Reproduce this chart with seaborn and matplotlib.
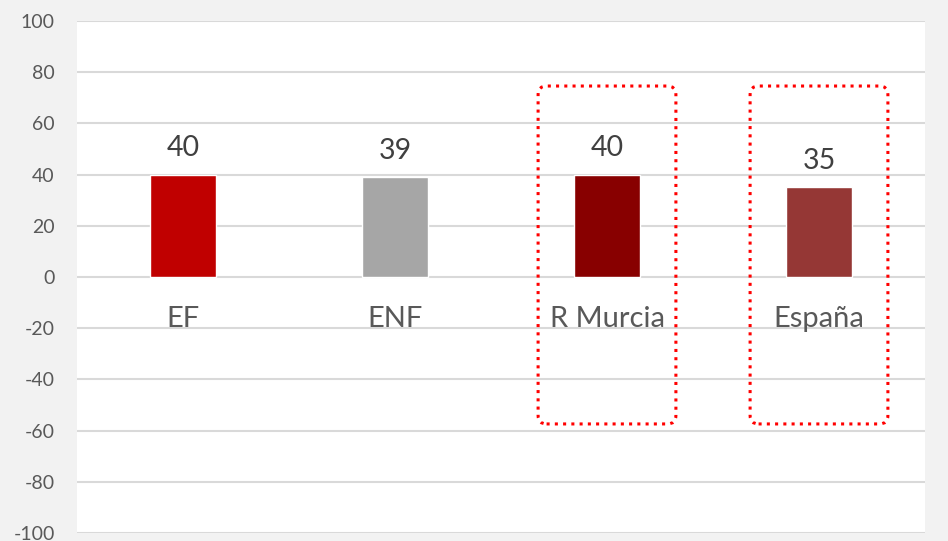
import numpy as np
import pandas as pd
import matplotlib
matplotlib.use('Agg')
import matplotlib.pyplot as plt
import seaborn as sns
from matplotlib.patches import FancyBboxPatch

categories = ['EF', 'ENF', 'R Murcia', 'España']
values = [40, 39, 40, 35]
value_labels = ['40', '39', '40', '35']
bar_colors = ['#c00000', '#a6a6a6', '#880000', '#953735']
highlighted = ['R Murcia', 'España']
y_ticks = [-100, -80, -60, -40, -20, 0, 20, 40, 60, 80, 100]

sns.set_style('white')
plt.rcParams['font.family'] = ['Lato', 'DejaVu Sans']

df = pd.DataFrame({'cat': categories, 'val': values})

fig = plt.figure(figsize=(9.48, 5.41), dpi=100, facecolor='#f2f2f2')
ax = fig.add_axes([77/948, 8/541, 848/948, 512/541])
ax.set_facecolor('white')

sns.barplot(data=df, x='cat', y='val', hue='cat', palette=bar_colors,
            legend=False, width=0.316, saturation=1, ax=ax, zorder=3)

ax.set_xlim(-0.5, 3.5)
ax.set_ylim(-100, 100)
ax.set_yticks(y_ticks)
ax.set_yticklabels([str(t) for t in y_ticks], fontsize=14, color='#595959')
ax.tick_params(axis='y', length=0, pad=16)
ax.set_xticks([])
ax.set_xlabel('')
ax.set_ylabel('')
ax.yaxis.grid(True, color='#d9d9d9', linewidth=1.5, zorder=0)
ax.set_axisbelow(True)
for s in ax.spines.values():
    s.set_visible(False)

# value labels above bars, category names under the zero line
for i, (c, v) in enumerate(zip(categories, values)):
    ax.annotate(value_labels[i], (i, v), xytext=(0, 19), textcoords='offset points',
                ha='center', va='center', fontsize=20.5, color='#404040')
    ax.annotate(c, (i, 0), xytext=(0, -30), textcoords='offset points',
                ha='center', va='center', fontsize=21, color='#595959')

# dotted rounded boxes around the regional comparison
px_x = 848 / 4.0
px_y = 512 / 200.0
aspect = px_x / px_y
for c in highlighted:
    i = categories.index(c)
    box = FancyBboxPatch((i - 0.325, -57.4), 0.65, 132.0,
                         boxstyle='round,pad=0,rounding_size=0.04',
                         mutation_aspect=aspect, fill=False,
                         edgecolor='#ff0000', linewidth=2.2,
                         linestyle=(0, (1, 1.7)), zorder=5, clip_on=False)
    ax.add_patch(box)

fig.savefig('out.png', dpi=100, facecolor=fig.get_facecolor())
